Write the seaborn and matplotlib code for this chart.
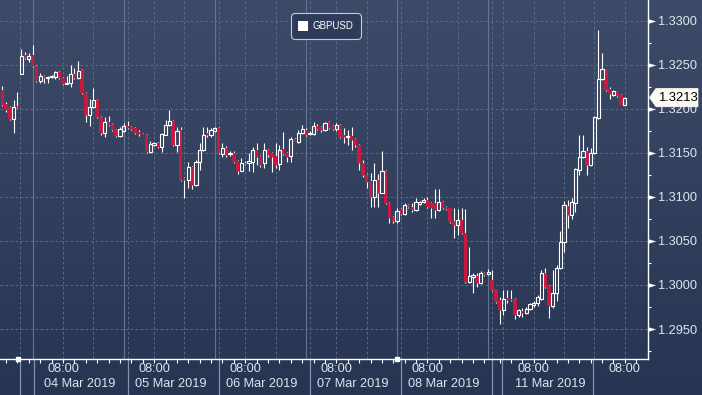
import numpy as np
import matplotlib
matplotlib.use("Agg")
import matplotlib.pyplot as plt
import seaborn as sns
from matplotlib.lines import Line2D
from matplotlib.patches import Polygon
from matplotlib.colors import LinearSegmentedColormap
import matplotlib.transforms as mtransforms

# ---------------- data (hourly GBPUSD candles) ----------------
opens = [1.3222, 1.3206, 1.3202, 1.3189, 1.3203, 1.3240, 1.3261, 1.3257, 1.3261, 1.3249,
         1.3232, 1.3237, 1.3235, 1.3236, 1.3236, 1.3242, 1.3235, 1.3228, 1.3230, 1.3240,
         1.3235, 1.3244, 1.3218, 1.3193, 1.3202, 1.3210, 1.3191, 1.3173, 1.3185, 1.3183,
         1.3176, 1.3169, 1.3175, 1.3181, 1.3180, 1.3178, 1.3174, 1.3172, 1.3171, 1.3151,
         1.3159, 1.3161, 1.3157, 1.3171, 1.3182, 1.3186, 1.3159, 1.3176, 1.3122, 1.3119,
         1.3134, 1.3114, 1.3140, 1.3153, 1.3173, 1.3170, 1.3175, 1.3178, 1.3149, 1.3156,
         1.3149, 1.3150, 1.3141, 1.3130, 1.3139, 1.3139, 1.3140, 1.3153, 1.3147, 1.3139,
         1.3153, 1.3150, 1.3147, 1.3137, 1.3155, 1.3150, 1.3147, 1.3166, 1.3163, 1.3173,
         1.3176, 1.3172, 1.3172, 1.3181, 1.3180, 1.3176, 1.3185, 1.3181, 1.3177, 1.3182,
         1.3170, 1.3168, 1.3169, 1.3166, 1.3159, 1.3139, 1.3125, 1.3118, 1.3100, 1.3119,
         1.3105, 1.3130, 1.3093, 1.3077, 1.3073, 1.3086, 1.3081, 1.3091, 1.3089, 1.3085,
         1.3092, 1.3094, 1.3097, 1.3093, 1.3093, 1.3085, 1.3094, 1.3089, 1.3087, 1.3073,
         1.3068, 1.3074, 1.3059, 1.3003, 1.3009, 1.3010, 1.3002, 1.3014, 1.3012, 1.3006,
         1.2995, 1.2983, 1.2972, 1.2985, 1.2984, 1.2984, 1.2966, 1.2971, 1.2968, 1.2973,
         1.2977, 1.2980, 1.2984, 1.3014, 1.2999, 1.2976, 1.2991, 1.3019, 1.3049, 1.3090,
         1.3080, 1.3093, 1.3131, 1.3146, 1.3152, 1.3136, 1.3150, 1.3190, 1.3234, 1.3245,
         1.3223, 1.3216, 1.3220, 1.3216, 1.3205]
highs = [1.3226, 1.3208, 1.3203, 1.3210, 1.3219, 1.3268, 1.3265, 1.3264, 1.3273, 1.3250,
         1.3241, 1.3239, 1.3237, 1.3239, 1.3243, 1.3243, 1.3236, 1.3237, 1.3250, 1.3247,
         1.3255, 1.3245, 1.3219, 1.3211, 1.3224, 1.3211, 1.3192, 1.3191, 1.3192, 1.3184,
         1.3177, 1.3180, 1.3184, 1.3186, 1.3181, 1.3179, 1.3176, 1.3173, 1.3172, 1.3164,
         1.3163, 1.3162, 1.3173, 1.3188, 1.3199, 1.3187, 1.3180, 1.3180, 1.3123, 1.3140,
         1.3135, 1.3142, 1.3161, 1.3180, 1.3180, 1.3178, 1.3180, 1.3180, 1.3161, 1.3158,
         1.3152, 1.3152, 1.3142, 1.3144, 1.3141, 1.3150, 1.3157, 1.3161, 1.3148, 1.3161,
         1.3155, 1.3151, 1.3161, 1.3159, 1.3174, 1.3151, 1.3168, 1.3167, 1.3176, 1.3182,
         1.3178, 1.3175, 1.3185, 1.3183, 1.3181, 1.3185, 1.3186, 1.3182, 1.3184, 1.3183,
         1.3178, 1.3176, 1.3180, 1.3167, 1.3160, 1.3142, 1.3126, 1.3127, 1.3139, 1.3126,
         1.3152, 1.3131, 1.3094, 1.3078, 1.3087, 1.3087, 1.3093, 1.3092, 1.3093, 1.3099,
         1.3096, 1.3099, 1.3100, 1.3094, 1.3109, 1.3109, 1.3095, 1.3090, 1.3088, 1.3088,
         1.3086, 1.3088, 1.3086, 1.3043, 1.3014, 1.3014, 1.3016, 1.3015, 1.3018, 1.3017,
         1.2996, 1.2986, 1.2994, 1.2994, 1.2994, 1.2985, 1.2973, 1.2974, 1.2975, 1.2980,
         1.2982, 1.2989, 1.3017, 1.3019, 1.3000, 1.3017, 1.3023, 1.3061, 1.3095, 1.3097,
         1.3099, 1.3133, 1.3170, 1.3170, 1.3157, 1.3156, 1.3192, 1.3290, 1.3264, 1.3246,
         1.3225, 1.3222, 1.3221, 1.3217, 1.3214]
lows = [1.3203, 1.3197, 1.3188, 1.3173, 1.3201, 1.3240, 1.3257, 1.3253, 1.3248, 1.3231,
        1.3230, 1.3230, 1.3230, 1.3235, 1.3234, 1.3234, 1.3227, 1.3228, 1.3225, 1.3234,
        1.3234, 1.3217, 1.3185, 1.3181, 1.3201, 1.3190, 1.3170, 1.3168, 1.3181, 1.3175,
        1.3168, 1.3168, 1.3174, 1.3177, 1.3176, 1.3172, 1.3169, 1.3170, 1.3150, 1.3150,
        1.3158, 1.3156, 1.3151, 1.3170, 1.3181, 1.3158, 1.3151, 1.3118, 1.3099, 1.3110,
        1.3109, 1.3113, 1.3131, 1.3152, 1.3168, 1.3168, 1.3174, 1.3149, 1.3145, 1.3146,
        1.3147, 1.3139, 1.3126, 1.3129, 1.3136, 1.3129, 1.3128, 1.3136, 1.3134, 1.3133,
        1.3146, 1.3128, 1.3133, 1.3131, 1.3148, 1.3140, 1.3140, 1.3162, 1.3161, 1.3172,
        1.3169, 1.3170, 1.3170, 1.3176, 1.3174, 1.3175, 1.3177, 1.3176, 1.3175, 1.3167,
        1.3161, 1.3159, 1.3153, 1.3157, 1.3131, 1.3123, 1.3110, 1.3089, 1.3089, 1.3089,
        1.3104, 1.3092, 1.3070, 1.3071, 1.3070, 1.3080, 1.3080, 1.3088, 1.3083, 1.3084,
        1.3091, 1.3093, 1.3088, 1.3076, 1.3076, 1.3084, 1.3086, 1.3085, 1.3071, 1.3053,
        1.3057, 1.3058, 1.3002, 1.3002, 1.2991, 1.2998, 1.3001, 1.3010, 1.3011, 1.2993,
        1.2980, 1.2956, 1.2966, 1.2980, 1.2982, 1.2961, 1.2964, 1.2964, 1.2967, 1.2972,
        1.2975, 1.2976, 1.2983, 1.2997, 1.2962, 1.2974, 1.2982, 1.3018, 1.3037, 1.3065,
        1.3075, 1.3083, 1.3125, 1.3144, 1.3125, 1.3135, 1.3149, 1.3189, 1.3233, 1.3221,
        1.3211, 1.3215, 1.3214, 1.3204, 1.3204]
closes = [1.3205, 1.3199, 1.3189, 1.3202, 1.3202, 1.3260, 1.3258, 1.3260, 1.3249, 1.3232,
          1.3237, 1.3235, 1.3236, 1.3237, 1.3242, 1.3235, 1.3228, 1.3230, 1.3240, 1.3235,
          1.3243, 1.3218, 1.3193, 1.3202, 1.3210, 1.3191, 1.3173, 1.3185, 1.3182, 1.3176,
          1.3169, 1.3177, 1.3181, 1.3178, 1.3177, 1.3173, 1.3172, 1.3171, 1.3151, 1.3160,
          1.3161, 1.3157, 1.3172, 1.3182, 1.3186, 1.3159, 1.3175, 1.3119, 1.3119, 1.3134,
          1.3114, 1.3140, 1.3153, 1.3170, 1.3170, 1.3176, 1.3178, 1.3150, 1.3156, 1.3148,
          1.3150, 1.3140, 1.3130, 1.3139, 1.3138, 1.3141, 1.3153, 1.3145, 1.3136, 1.3153,
          1.3148, 1.3145, 1.3136, 1.3153, 1.3149, 1.3145, 1.3166, 1.3163, 1.3173, 1.3177,
          1.3170, 1.3173, 1.3181, 1.3177, 1.3176, 1.3184, 1.3178, 1.3177, 1.3182, 1.3168,
          1.3168, 1.3169, 1.3165, 1.3159, 1.3139, 1.3125, 1.3117, 1.3100, 1.3119, 1.3105,
          1.3130, 1.3093, 1.3076, 1.3073, 1.3084, 1.3081, 1.3091, 1.3089, 1.3085, 1.3094,
          1.3094, 1.3097, 1.3089, 1.3088, 1.3085, 1.3094, 1.3087, 1.3086, 1.3072, 1.3068,
          1.3074, 1.3059, 1.3003, 1.3010, 1.3011, 1.3002, 1.3014, 1.3011, 1.3015, 1.2994,
          1.2981, 1.2972, 1.2984, 1.2983, 1.2983, 1.2966, 1.2972, 1.2968, 1.2973, 1.2978,
          1.2979, 1.2986, 1.3014, 1.2998, 1.2976, 1.2991, 1.3019, 1.3049, 1.3091, 1.3080,
          1.3094, 1.3132, 1.3146, 1.3152, 1.3136, 1.3150, 1.3191, 1.3234, 1.3245, 1.3222,
          1.3217, 1.3220, 1.3215, 1.3205, 1.3213]

series_name = "GBPUSD"
price_ticks = [1.2950, 1.3000, 1.3050, 1.3100, 1.3150, 1.3200, 1.3250, 1.3300]
time_label_pos = [16, 40, 64, 88, 112, 140, 164]          # hour index of 08:00
time_labels = ["08:00"] * 7
date_labels = ["04 Mar 2019", "05 Mar 2019", "06 Mar 2019", "07 Mar 2019",
               "08 Mar 2019", "11 Mar 2019", ""]

# ---------------- styling ----------------
sns.set_style("dark")
plt.rcParams['font.family'] = ['Liberation Sans', 'DejaVu Sans']

W, H = 702, 395
fig = plt.figure(figsize=(W / 100, H / 100), dpi=100)

bg = fig.add_axes([0, 0, 1, 1], zorder=0)
grad = np.linspace(0, 1, 256).reshape(-1, 1)
cmap = LinearSegmentedColormap.from_list('bg', ['#3d4b68', '#273553'])
bg.imshow(grad, aspect='auto', cmap=cmap, extent=[0, 1, 0, 1], origin='upper')
bg.set_axis_off()

AX_W, AX_H = 648, 359
ax = fig.add_axes([0, 1 - AX_H / H, AX_W / W, AX_H / H], zorder=1)
ax.patch.set_alpha(0)
ax.grid(False)

xi = np.arange(len(opens))
o = np.array(opens); c = np.array(closes); hi = np.array(highs); lo = np.array(lows)
up = c >= o
b_lo = np.minimum(o, c)
b_hi = np.maximum(o, c)
b_h = np.maximum(b_hi - b_lo, 0.00010)

GRID = '#566a89'
SEP = '#5f7698'
dash = (0, (2.6, 2.2))

# horizontal grid
for v in price_ticks:
    ax.axhline(v, color=GRID, lw=0.75, ls=dash, zorder=1)
# vertical dashed grid
vdash = [4.7, 16, 24, 33, 40, 48, 57, 64, 72, 81, 88, 96, 105, 112, 120,
         129, 132, 140, 148, 156, 164]
for p in vdash:
    ax.axvline(p, color=GRID, lw=0.75, ls=dash, zorder=1)
# session separators (solid)
for p in [8, 32, 56, 80, 104, 128]:
    ax.axvline(p, color=SEP, lw=0.8, zorder=1)

# candles
RED = '#c8193f'
ax.vlines(xi, b_hi, hi, color='white', lw=0.8, zorder=3)
ax.vlines(xi, lo, b_lo, color='white', lw=0.8, zorder=3)
ax.bar(xi[~up], b_h[~up], bottom=b_lo[~up], width=0.92, color=RED,
       linewidth=0, zorder=4)
ax.bar(xi[up], b_h[up], bottom=b_lo[up], width=0.86, facecolor='none',
       edgecolor='white', linewidth=0.8, zorder=4)

ax.set_xlim(-0.6, 170.1)
ax.set_ylim(1.291591, 1.332386)

# spines
for s in ['top', 'left']:
    ax.spines[s].set_visible(False)
for s in ['right', 'bottom']:
    ax.spines[s].set_visible(True)
    ax.spines[s].set_color('white')
    ax.spines[s].set_linewidth(1.0)

TXT = '#dfe5ef'
# y axis on the right
ax.yaxis.tick_right()
ax.set_yticks(price_ticks)
ax.set_yticklabels([f"{v:.4f}" for v in price_ticks])
ax.set_yticks([v + 0.0025 for v in price_ticks[:-1]] + [1.2925], minor=True)
ax.tick_params(axis='y', which='major', length=0, pad=7.0, labelsize=9.2,
               labelcolor=TXT, left=False, right=True)
ax.tick_params(axis='y', which='minor', length=2.5, width=0.8, color='white',
               direction='out', left=False, right=True)
tri = [(0, -0.3), (1, 0), (0, 0.3), (0, -0.3)]
ax.plot(np.ones(len(price_ticks)), price_ticks, ls='none', marker=tri, ms=11,
        color='white', mec='white', mew=0, transform=ax.get_yaxis_transform(),
        clip_on=False, zorder=6)

# x axis ticks
minor_x = list(np.arange(1, 129, 3)) + list(np.arange(131, 170, 3))
ax.set_xticks(minor_x)
ax.set_xticklabels([])
ax.tick_params(axis='x', which='major', length=2.8, width=0.8, color='white',
               direction='out', bottom=True)
xt = ax.get_xaxis_transform()
for p, t, d in zip(time_label_pos, time_labels, date_labels):
    ax.text(p, -0.0287, t, transform=xt, ha='center', va='center',
            fontsize=9.2, color=TXT)
    if d:
        ax.text(p - 5.0, -0.0696, d, transform=xt, ha='left', va='center',
                fontsize=9.2, color=TXT)
ax.vlines([4.7, 8.4, 33, 57, 81, 105, 129, 131.7, 155.6], -0.11, 0,
          transform=xt, color='#8093b0', lw=0.9, clip_on=False)
ax.plot([4.1, 104], [0, 0], ls='none', marker='s', ms=2.4, color='white',
        transform=xt, clip_on=False, zorder=6)

# legend
handle = Line2D([], [], marker='s', ls='none', color='white', markersize=6.5,
                markeredgewidth=0)
leg = ax.legend([handle], [series_name], loc='center',
                bbox_to_anchor=(326 / AX_W, 1 - 26 / AX_H), frameon=True,
                fancybox=True, facecolor='#2e3b59', edgecolor='#c6cbd4',
                framealpha=1, fontsize=7.0, labelcolor='white',
                handlelength=0.8, handletextpad=0.6, borderpad=0.8,
                borderaxespad=0)
leg.get_frame().set_linewidth(0.8)
leg.get_frame().set_boxstyle('round', pad=0, rounding_size=0.4)
leg.set_zorder(10)

# last price tag
fig.canvas.draw()
last = closes[-1]
yd = ax.transData.transform((0, last))[1]
xs = ax.transAxes.transform((1, 0))[0]
hh = 9.2
verts = [(xs + 1.5, yd), (xs + 8, yd + hh), (xs + 50, yd + hh),
         (xs + 50, yd - hh), (xs + 8, yd - hh)]
tag = Polygon(verts, closed=True, facecolor='#fdfaf3', edgecolor='#fdfaf3',
              lw=0.5, transform=mtransforms.IdentityTransform(), zorder=20)
fig.add_artist(tag)
fig.text((xs + 29.5) / W, yd / H, f"{last:.4f}", ha='center', va='center',
         fontsize=9.4, color='black', zorder=21)

fig.savefig("out.png", dpi=100, facecolor=fig.get_facecolor())
